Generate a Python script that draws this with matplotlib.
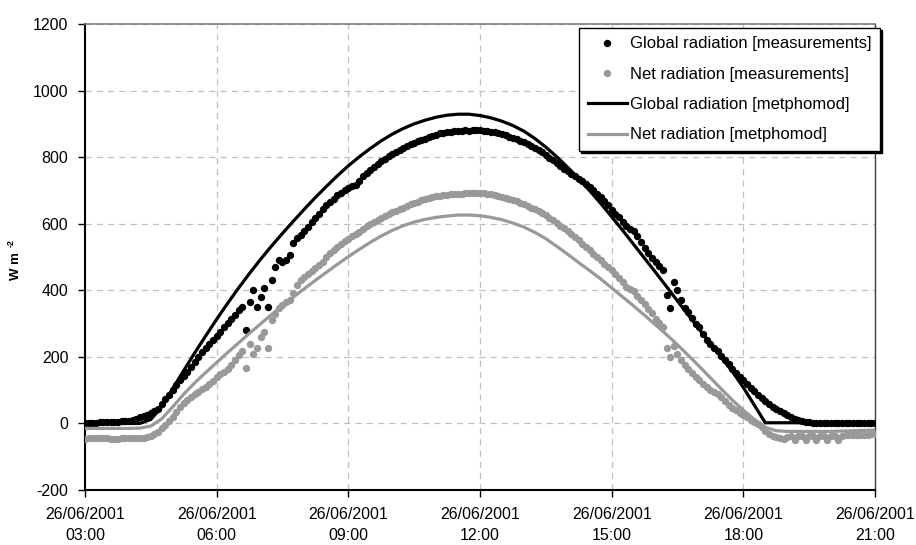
import matplotlib
matplotlib.use('Agg')
import matplotlib.pyplot as plt
import pandas as pd

plt.rcParams['font.family'] = ['Liberation Sans', 'DejaVu Sans']
plt.rcParams['axes.unicode_minus'] = False

# ---------------- data ----------------
series_labels = ['Global radiation [measurements]', 'Net radiation [measurements]',
                 'Global radiation [metphomod]', 'Net radiation [metphomod]']

# measurements every 5 minutes, 03:00 .. 21:00 (W m-2)
global_meas = [
    2, 2, 2, 2, 3, 3, 3, 3, 4, 5, 6, 7,                                   # 03h
    8, 10, 14, 18, 22, 26, 31, 37, 44, 58, 72, 86,                        # 04h
    100, 115, 129, 142, 156, 170, 185, 200, 214, 226, 238, 250,           # 05h
    262, 276, 290, 302, 314, 325, 340, 349, 280, 364, 400, 349,           # 06h
    379, 406, 349, 430, 469, 490, 484, 492, 505, 541, 556, 565,           # 07h
    578, 590, 605, 618, 630, 645, 655, 664, 675, 686, 693, 700,           # 08h
    707, 712, 716, 728, 742, 752, 762, 770, 780, 788, 795, 802,           # 09h
    808, 814, 820, 826, 832, 838, 843, 847, 851, 855, 860, 865,           # 10h
    868, 872, 874, 876, 877, 878, 878, 880, 881, 880, 882, 881,           # 11h
    882, 880, 878, 876, 875, 872, 870, 866, 862, 858, 855, 850,           # 12h
    845, 840, 834, 828, 821, 814, 806, 798, 790, 782, 773, 765,           # 13h
    758, 750, 742, 734, 727, 720, 711, 700, 690, 680, 668, 655,           # 14h
    640, 630, 619, 606, 594, 584, 577, 562, 545, 528, 512, 498,           # 15h
    485, 472, 460, 385, 346, 425, 400, 372, 348, 336, 318, 300,           # 16h
    289, 270, 252, 240, 228, 218, 204, 192, 178, 165, 152, 140,           # 17h
    130, 118, 106, 96, 86, 76, 68, 58, 50, 43, 36, 31,                    # 18h
    25, 19, 14, 9, 6, 4, 3, 2, 2, 1, 1, 1,                                # 19h
    1, 1, 1, 1, 1, 1, 1, 1, 1, 1, 1, 1,                                   # 20h
    1,                                                                    # 21h
]
net_meas = [
    -48, -44, -44, -45, -45, -45, -45, -46, -46, -46, -45, -45,           # 03h
    -45, -45, -44, -44, -43, -41, -38, -33, -25, -15, -5, 6,              # 04h
    20, 34, 48, 60, 70, 80, 88, 95, 103, 110, 118, 128,                   # 05h
    138, 148, 155, 163, 175, 190, 205, 218, 168, 240, 210, 228,           # 06h
    259, 275, 228, 310, 330, 347, 356, 365, 372, 392, 415, 432,           # 07h
    440, 449, 457, 466, 476, 486, 500, 512, 521, 530, 540, 548,           # 08h
    555, 562, 569, 576, 585, 594, 600, 605, 611, 617, 622, 628,           # 09h
    634, 638, 643, 648, 653, 658, 662, 666, 670, 674, 677, 680,           # 10h
    682, 683, 685, 686, 688, 689, 690, 690, 691, 692, 692, 692,           # 11h
    692, 691, 690, 688, 686, 683, 680, 677, 674, 671, 667, 663,           # 12h
    658, 654, 648, 643, 637, 631, 626, 618, 610, 602, 594, 586,           # 13h
    578, 568, 559, 550, 540, 530, 520, 510, 500, 490, 480, 470,           # 14h
    462, 450, 438, 425, 410, 403, 398, 382, 370, 360, 345, 333,           # 15h
    315, 302, 290, 226, 200, 232, 210, 192, 176, 165, 152, 140,           # 16h
    130, 118, 108, 100, 94, 88, 78, 67, 55, 47, 40, 30,                   # 17h
    24, 18, 11, 3, -3, -12, -24, -32, -38, -42, -44, -48,                 # 18h
    -40, -39, -50, -39, -38, -50, -38, -38, -50, -38, -37, -50,           # 19h
    -37, -37, -50, -37, -36, -36, -36, -35, -35, -34, -34, -33,           # 20h
    -32,                                                                  # 21h
]

# model every 15 minutes, 03:00 .. 21:00 (W m-2)
global_model = [
    0, 0, 0, 0, 0, 0, 12,                                                 # 03:00-04:30
    50, 105, 159, 212, 263, 313, 361, 407, 451, 493, 533, 571, 608,       # 04:45-07:45
    644, 679, 712, 744, 774, 801, 826, 849, 869, 886, 900, 911,           # 08:00-10:45
    920, 926, 929, 929,                                                   # 11:00-11:45
    925, 918, 908, 895, 878, 856, 830, 801, 769, 735, 699, 661,           # 12:00-14:45
    621, 580, 538, 496, 454, 411, 368, 325, 282, 240, 198, 156,           # 15:00-17:45
    108, 55, 2,                                                           # 18:00-18:30
    2, 2, 2, 2, 2, 2, 2, 2, 2, 2,                                         # 18:45-21:00
]
net_model = [
    -15, -15, -15, -15, -15, -14,                                         # 03:00-04:15
    -8, 14, 50, 88, 122, 153, 183, 213, 242, 271, 299, 327, 354, 380,     # 04:30-07:45
    405, 430, 454, 478, 501, 523, 544, 563, 580, 594, 605, 613,           # 08:00-10:45
    619, 623, 626, 626,                                                   # 11:00-11:45
    624, 619, 612, 602, 590, 574, 555, 532, 508, 483, 459, 434,           # 12:00-14:45
    407, 380, 353, 325, 296, 267, 236, 204, 171, 137, 103, 70,            # 15:00-17:45
    40, 12, -12, -22,                                                     # 18:00-18:45
    -24, -24, -24, -24, -24, -23, -22, -21, -20,                          # 19:00-21:00
]

x_tick_times = ['2001-06-26 03:00', '2001-06-26 06:00', '2001-06-26 09:00', '2001-06-26 12:00',
                '2001-06-26 15:00', '2001-06-26 18:00', '2001-06-26 21:00']
x_tick_labels = ['26/06/2001\n03:00', '26/06/2001\n06:00', '26/06/2001\n09:00', '26/06/2001\n12:00',
                 '26/06/2001\n15:00', '26/06/2001\n18:00', '26/06/2001\n21:00']
y_ticks = [-200, 0, 200, 400, 600, 800, 1000, 1200]
y_label_main = 'W m'
y_label_sup = '-2'

t_meas = pd.date_range('2001-06-26 03:00', '2001-06-26 21:00', freq='5min')
t_model = pd.date_range('2001-06-26 03:00', '2001-06-26 21:00', freq='15min')

# ---------------- figure ----------------
W, H = 916, 545
fig = plt.figure(figsize=(W / 100, H / 100), dpi=100)
ax = fig.add_axes([85 / W, 1 - 490 / H, 790 / W, 466 / H])

grey = '#999999'
ax.plot(t_meas, global_meas, 'o', color='black', ms=5.3, mew=0, label=series_labels[0], zorder=3)
ax.plot(t_meas, net_meas, 'o', color=grey, ms=5.3, mew=0, label=series_labels[1], zorder=3)
ax.plot(t_model, global_model, '-', color='black', lw=2.3, label=series_labels[2], zorder=4)
ax.plot(t_model, net_model, '-', color=grey, lw=2.3, label=series_labels[3], zorder=4)

ax.set_ylim(y_ticks[0], y_ticks[-1])
ax.set_yticks(y_ticks)
xt = pd.to_datetime(x_tick_times)
ax.set_xlim(xt[0], xt[-1])
ax.set_xticks(xt)
ax.set_xticklabels(x_tick_labels, linespacing=1.55)

ax.grid(True, color='#c0c0c0', linestyle=(0, (5, 4)), lw=0.9, zorder=0)
ax.set_axisbelow(True)

for s in ['left', 'bottom']:
    ax.spines[s].set_color('black')
    ax.spines[s].set_linewidth(1.5)
ax.spines['top'].set_color('#808080')
ax.spines['top'].set_linewidth(1.2)
ax.spines['right'].set_color('#404040')
ax.spines['right'].set_linewidth(1.0)

ax.tick_params(axis='both', direction='out', length=5, width=1, labelsize=11.5, colors='black')
ax.tick_params(axis='x', pad=7)
ax.tick_params(axis='y', pad=7)

fig.text(16 / W, 1 - 266 / H, y_label_main, rotation=90, ha='center', va='center',
         fontsize=9.5, fontweight='bold')
fig.text(11 / W, 1 - 243 / H, y_label_sup, rotation=90, ha='center', va='center',
         fontsize=6.5, fontweight='bold')

leg = ax.legend(loc='upper right', bbox_to_anchor=(880 / W, 1 - 28 / H), bbox_transform=fig.transFigure,
                borderaxespad=0, frameon=True, fancybox=False, edgecolor='black', framealpha=1,
                fontsize=12, handlelength=2.35, handletextpad=0.2, labelspacing=0.92, borderpad=0.5,
                shadow={'color': 'black', 'alpha': 1, 'ox': 1.5, 'oy': -1.5})
leg.get_frame().set_linewidth(1.0)
leg.set_zorder(10)

fig.savefig('out.png', dpi=100)
